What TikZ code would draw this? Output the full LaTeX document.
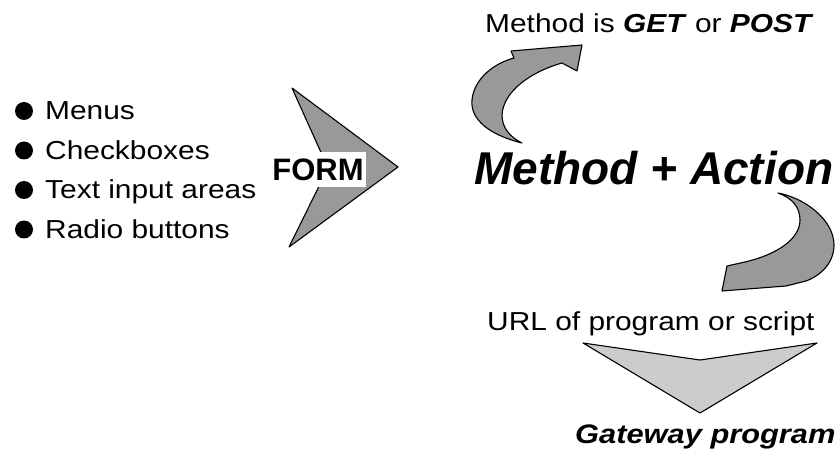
\documentclass[tikz,border=0pt]{standalone}
\usepackage{fontspec}
\setmainfont{Liberation Sans}[FakeStretch=1.15]
\newfontfamily\headfont{Liberation Sans}
\definecolor{hatchdark}{gray}{0.6}
\definecolor{hatchlight}{gray}{0.8}
\begin{document}
\begin{tikzpicture}[x=1pt, y=-1pt, line join=round,
  shapeline/.style={draw=black, line width=1.1pt},
  darkfill/.style={shapeline, fill=hatchdark},
  lightfill/.style={shapeline, fill=hatchlight},
  item/.style={anchor=base west, inner sep=0pt, font=\fontsize{26}{30}\selectfont},
  dot/.style={circle, fill=black, inner sep=0pt, minimum size=18pt},
  caption/.style={anchor=base west, inner sep=0pt, font=\fontsize{26}{30}\selectfont},
  bigtitle/.style={anchor=base west, inner sep=0pt, font=\headfont\bfseries\itshape\fontsize{46}{50}\selectfont}]
\useasboundingbox (0,0) rectangle (835,454);

% bullet list of form elements
\node[item] (menus) at (45,120) {Menus};
\node[item] (checks) at (45,159.5) {Checkboxes};
\node[item] (textin) at (45,199) {Text input areas};
\node[item] (radio) at (45,238.5) {Radio buttons};
\node[dot] (d1) at (24,111) {};
\node[dot] (d2) at (24,150.5) {};
\node[dot] (d3) at (24,190) {};
\node[dot] (d4) at (24,229.5) {};

% big chevron arrow with the FORM label
\draw[darkfill] (292,88) coordinate (formtop) -- (398,167) coordinate (formtip)
  -- (289,247) coordinate (formbot) -- (328,168) coordinate (formnotch) -- cycle;
\node[fill=white, inner xsep=2pt, minimum height=35pt,
  font=\headfont\bfseries\fontsize{31}{31}\selectfont] (form) at (318,169.5) {FORM};

% curved arrow up to the method line
\draw[darkfill] (522,143) coordinate (uptail)
  .. controls (490,135) and (470,120) .. (472,100)
  .. controls (474,78) and (495,63) .. (514,58)
  -- (511,51) -- (582,45) coordinate (uphead) -- (577,71) -- (562,63)
  .. controls (530,72) and (503,92) .. (502,115)
  .. controls (502,128) and (510,137) .. (522,143) -- cycle;

% curved arrow down to the URL line
\draw[darkfill] (778,193) coordinate (dntail)
  .. controls (805,198) and (834,220) .. (834,245)
  .. controls (834,262) and (822,275) .. (806,281)
  -- (786,286) -- (722,291) coordinate (dnhead) -- (727,266) -- (745,262)
  .. controls (775,255) and (800,240) .. (800,220)
  .. controls (800,207) and (792,198) .. (778,193) -- cycle;

% flat chevron pointing to the gateway program
\draw[lightfill] (583,343) coordinate (chl) -- (700,360) coordinate (chn)
  -- (817,343) coordinate (chr) -- (700,413) coordinate (chtip) -- cycle;

% labels
\node[caption] (method) at (485,33) {Method is \textbf{\textit{GET}} or \textbf{\textit{POST}}};
\node[bigtitle] (mact) at (474,185) {Method + Action};
\node[caption] (url) at (487,330) {URL of program or script};
\node[caption, font=\bfseries\itshape\fontsize{26.8}{30}\selectfont] (gate) at (575,443) {Gateway program};
\end{tikzpicture}
\end{document}
